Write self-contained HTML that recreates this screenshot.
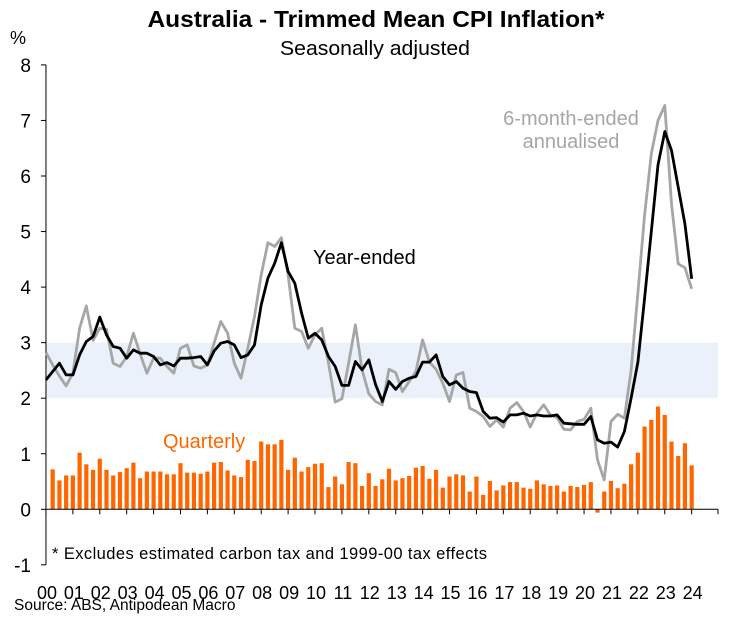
<!DOCTYPE html>
<html><head><meta charset="utf-8"><style>
html,body{margin:0;padding:0;background:#fff;}
svg{display:block;font-family:"Liberation Sans",Arial,sans-serif;}
</style></head><body>
<svg id="chart" width="733" height="629" viewBox="0 0 733 629" xmlns="http://www.w3.org/2000/svg">
<text x="376" y="27" text-anchor="middle" font-size="23.5" font-weight="bold" textLength="457" lengthAdjust="spacingAndGlyphs">Australia - Trimmed Mean CPI Inflation*</text>
<text x="375" y="55" text-anchor="middle" font-size="20.5" textLength="190" lengthAdjust="spacingAndGlyphs">Seasonally adjusted</text>
<text x="10" y="44" font-size="18">%</text>
<g id="band"></g>
<g id="bars"></g>
<g id="axes"></g>
<g id="lines"></g>
<text x="571" y="125" text-anchor="middle" font-size="20" fill="#A6A6A6">6-month-ended</text>
<text x="571" y="148" text-anchor="middle" font-size="20" fill="#A6A6A6">annualised</text>
<text x="313" y="264" font-size="20" fill="#000">Year-ended</text>
<text x="163" y="448" font-size="20" fill="#FF6600">Quarterly</text>
<text x="52" y="559" font-size="16.5" textLength="435" lengthAdjust="spacing">* Excludes estimated carbon tax and 1999-00 tax effects</text>
<text x="14" y="610" font-size="15.5">Source: ABS, Antipodean Macro</text>
</svg>
<script>
const yearLabels = ["00","01","02","03","04","05","06","07","08","09","10","11","12","13","14","15","16","17","18","19","20","21","22","23","24"];
const yTicks = [8,7,6,5,4,3,2,1,0,-1];
const yearEnded = [2.33,2.48,2.63,2.42,2.42,2.78,3.02,3.11,3.46,3.14,2.93,2.90,2.72,2.87,2.81,2.81,2.75,2.60,2.64,2.58,2.72,2.72,2.73,2.75,2.60,2.85,2.99,3.02,2.96,2.73,2.78,2.96,3.68,4.16,4.43,4.80,4.28,4.07,3.53,3.08,3.17,3.05,2.75,2.57,2.23,2.23,2.66,2.51,2.69,2.25,1.94,2.30,2.16,2.30,2.36,2.39,2.65,2.65,2.78,2.39,2.24,2.30,2.18,2.12,2.10,1.76,1.64,1.65,1.57,1.70,1.70,1.73,1.68,1.70,1.68,1.68,1.70,1.55,1.54,1.53,1.53,1.67,1.25,1.19,1.21,1.12,1.4,2.0,2.65,3.8,5.0,6.2,6.8,6.46,5.8,5.14,4.15];
const sixMonth = [2.82,2.6,2.4,2.22,2.45,3.26,3.66,3.04,3.26,3.24,2.63,2.57,2.75,3.17,2.8,2.45,2.72,2.72,2.57,2.45,2.90,2.96,2.58,2.54,2.60,2.99,3.38,3.17,2.63,2.36,2.90,3.47,4.22,4.80,4.73,4.89,4.22,3.26,3.20,2.90,3.14,3.26,2.63,1.93,1.99,2.63,3.32,2.51,2.08,1.94,1.88,2.52,2.46,2.12,2.30,2.48,3.05,2.65,2.52,2.27,1.94,2.42,2.46,1.82,1.76,1.67,1.49,1.61,1.48,1.82,1.92,1.76,1.48,1.73,1.88,1.70,1.65,1.44,1.43,1.58,1.62,1.82,0.89,0.53,1.58,1.71,1.64,2.5,3.9,5.3,6.4,7.0,7.27,5.5,4.42,4.35,3.97];
const quarterly = [0.72,0.52,0.61,0.61,1.02,0.81,0.71,0.91,0.71,0.61,0.67,0.74,0.84,0.56,0.68,0.68,0.68,0.63,0.63,0.83,0.66,0.66,0.64,0.68,0.84,0.85,0.70,0.61,0.58,0.89,0.87,1.22,1.17,1.17,1.25,0.71,0.93,0.68,0.76,0.82,0.83,0.40,0.59,0.45,0.85,0.83,0.42,0.65,0.42,0.54,0.73,0.52,0.56,0.60,0.75,0.78,0.55,0.71,0.39,0.59,0.63,0.61,0.32,0.59,0.26,0.51,0.34,0.43,0.49,0.49,0.39,0.37,0.52,0.45,0.42,0.43,0.32,0.42,0.40,0.44,0.49,-0.06,0.32,0.51,0.38,0.46,0.81,1.02,1.49,1.61,1.85,1.70,1.22,0.96,1.19,0.79];
const bandRange = [2,3];

const NS = "http://www.w3.org/2000/svg";
const X0 = 45.97, DX = 6.726, XEND = 718;
const Y0 = 509.3, DY = 55.55;
const xOf = i => X0 + i * DX;
const yOf = v => Y0 - v * DY;
function mk(tag, attrs, parent){ const e = document.createElementNS(NS, tag); for (const k in attrs) e.setAttribute(k, attrs[k]); parent.appendChild(e); return e; }

const band = document.getElementById('band');
const br = mk('rect', {x: X0, y: yOf(bandRange[1]), width: XEND - X0, height: yOf(bandRange[0]) - yOf(bandRange[1]), fill: '#EAF1FA'}, band);



const bars = document.getElementById('bars');
quarterly.forEach((v, k) => {
  const x = xOf(k + 1);
  const y1 = yOf(Math.max(v, 0)), y2 = yOf(Math.min(v, 0));
  const r = mk('rect', {x: x - 2.1, y: y1, width: 4.2, height: Math.max(y2 - y1, 0.5), fill: '#FF6600'}, bars);
  
  
});

const axes = document.getElementById('axes');
const ya = mk('line', {x1: X0, y1: yOf(8), x2: X0, y2: yOf(-1), stroke: '#000', 'stroke-width': 1}, axes);


const xa = mk('line', {x1: X0, y1: Y0, x2: XEND, y2: Y0, stroke: '#000', 'stroke-width': 1}, axes);


yTicks.forEach(v => {
  mk('line', {x1: X0 - 5, y1: yOf(v), x2: X0, y2: yOf(v), stroke: '#000', 'stroke-width': 1}, axes);
  const t = mk('text', {x: 31, y: yOf(v) + 7, 'text-anchor': 'end', 'font-size': 19}, axes);
  t.textContent = v;
  
  
});
yearLabels.forEach((lab, k) => {
  const x = xOf(k * 4);
  mk('line', {x1: x, y1: Y0, x2: x, y2: Y0 + 5, stroke: '#000', 'stroke-width': 1}, axes);
  const t = mk('text', {x: x + 1, y: 599, 'text-anchor': 'middle', 'font-size': 18}, axes);
  t.textContent = lab;
  
  
});
mk('line', {x1: XEND, y1: Y0, x2: XEND, y2: Y0 + 5, stroke: '#000', 'stroke-width': 1}, axes);

const lines = document.getElementById('lines');
function path(arr){ return arr.map((v, i) => (i ? 'L' : 'M') + xOf(i).toFixed(1) + ' ' + yOf(v).toFixed(1)).join(' '); }
const g = mk('path', {d: path(sixMonth), fill: 'none', stroke: '#A6A6A6', 'stroke-width': 2.8, 'stroke-linejoin': 'round'}, lines);


const b = mk('path', {d: path(yearEnded), fill: 'none', stroke: '#000', 'stroke-width': 2.8, 'stroke-linejoin': 'round'}, lines);


</script>
</body></html>
